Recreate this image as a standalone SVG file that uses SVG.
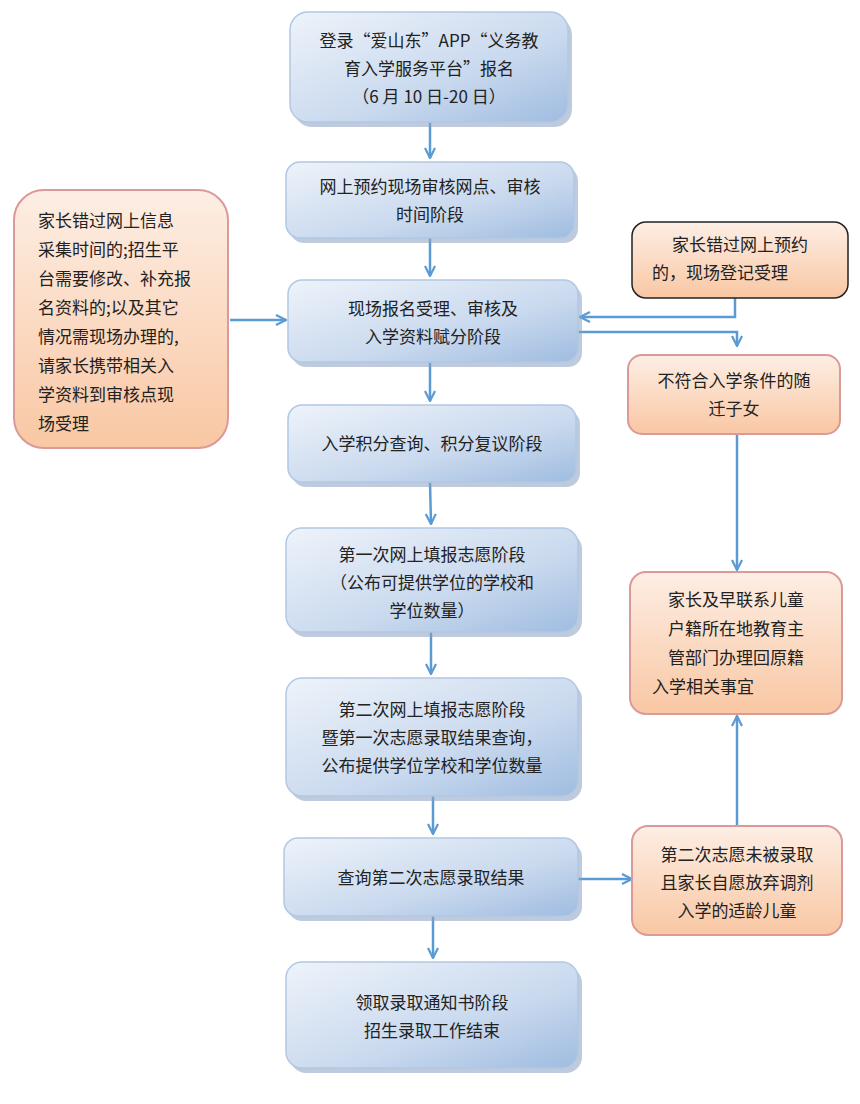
<svg xmlns="http://www.w3.org/2000/svg" width="860" height="1104" viewBox="0 0 860 1104">
<style>
text{font-family:"Noto Sans CJK SC","Liberation Serif",serif;font-size:17px;fill:#222;text-anchor:middle}
.l{text-anchor:start}
.b{fill:url(#gb);stroke:#b3c8e2;stroke-width:1.5}
.o{fill:url(#go);stroke:#d99a98;stroke-width:2}
.ok{fill:url(#go);stroke:#222;stroke-width:1.5}
.sh{fill:#8aa1bf;opacity:.55}
.c{fill:none;stroke:#5b9bd5;stroke-width:2.5;marker-end:url(#m)}
</style>
<defs>
<linearGradient id="gb" x1="0" y1="0" x2="1" y2="1"><stop offset="0" stop-color="#eef3fa"/><stop offset="0.6" stop-color="#c9d9ee"/><stop offset="1" stop-color="#9fbce0"/></linearGradient>
<linearGradient id="go" x1="0" y1="0" x2="0" y2="1"><stop offset="0" stop-color="#fdeee4"/><stop offset="1" stop-color="#f9c7a3"/></linearGradient>
<marker id="m" viewBox="0 0 12 12" refX="11" refY="6" markerWidth="12" markerHeight="12" markerUnits="userSpaceOnUse" orient="auto"><polyline points="1,1 11,6 1,11" fill="none" stroke="#5b9bd5" stroke-width="2.2"/></marker>
</defs>
<g id="connectors">
<line class="c" x1="430" y1="122" x2="430" y2="158"/>
<line class="c" x1="430" y1="238" x2="430" y2="276"/>
<line class="c" x1="430" y1="362" x2="430" y2="401"/>
<line class="c" x1="430" y1="482" x2="431" y2="524"/>
<line class="c" x1="431" y1="632" x2="431" y2="674"/>
<line class="c" x1="433" y1="796" x2="433" y2="834"/>
<line class="c" x1="433" y1="916" x2="433" y2="958"/>
<line class="c" x1="230" y1="320" x2="286" y2="320"/>
<polyline class="c" points="735,298 735,317 580,317"/>
<polyline class="c" points="578,332 737,332 737,346"/>
<line class="c" x1="737" y1="434" x2="737" y2="570"/>
<line class="c" x1="737" y1="826" x2="737" y2="716"/>
<line class="c" x1="578" y1="879" x2="632" y2="879"/>
</g>
<g id="n1"><rect class="sh" x="294" y="17" width="278" height="110" rx="18"/><rect class="b" x="290" y="12" width="278" height="110" rx="18"/><text x="429" y="47">登录“爱山东”APP“义务教</text><text x="429" y="75">育入学服务平台”报名</text><text x="429" y="103">（6 月 10 日-20 日）</text></g>
<g id="n2"><rect class="sh" x="290" y="167" width="288" height="76" rx="14"/><rect class="b" x="286" y="162" width="288" height="76" rx="14"/><text x="430" y="193">网上预约现场审核网点、审核</text><text x="430" y="221">时间阶段</text></g>
<g id="n3"><rect class="sh" x="292" y="285" width="290" height="82" rx="14"/><rect class="b" x="288" y="280" width="290" height="82" rx="14"/><text x="433" y="315">现场报名受理、审核及</text><text x="433" y="343">入学资料赋分阶段</text></g>
<g id="n4"><rect class="sh" x="292" y="410" width="288" height="77" rx="14"/><rect class="b" x="288" y="405" width="288" height="77" rx="14"/><text x="432" y="450">入学积分查询、积分复议阶段</text></g>
<g id="n5"><rect class="sh" x="290" y="533" width="292" height="104" rx="16"/><rect class="b" x="286" y="528" width="292" height="104" rx="16"/><text x="432" y="561">第一次网上填报志愿阶段</text><text x="432" y="589">（公布可提供学位的学校和</text><text x="432" y="617">学位数量）</text></g>
<g id="n6"><rect class="sh" x="290" y="683" width="292" height="118" rx="16"/><rect class="b" x="286" y="678" width="292" height="118" rx="16"/><text x="432" y="716">第二次网上填报志愿阶段</text><text x="432" y="744">暨第一次志愿录取结果查询，</text><text x="432" y="772">公布提供学位学校和学位数量</text></g>
<g id="n7"><rect class="sh" x="288" y="843" width="294" height="78" rx="14"/><rect class="b" x="284" y="838" width="294" height="78" rx="14"/><text x="431" y="884">查询第二次志愿录取结果</text></g>
<g id="n8"><rect class="sh" x="290" y="967" width="292" height="106" rx="16"/><rect class="b" x="286" y="962" width="292" height="106" rx="16"/><text x="432" y="1009">领取录取通知书阶段</text><text x="432" y="1037">招生录取工作结束</text></g>
<g id="left"><rect class="o" x="14" y="190" width="214" height="258" rx="30"/><text class="l" x="38" y="227">家长错过网上信息</text><text class="l" x="38" y="256">采集时间的;招生平</text><text class="l" x="38" y="285">台需要修改、补充报</text><text class="l" x="38" y="314">名资料的;以及其它</text><text class="l" x="38" y="343">情况需现场办理的,</text><text class="l" x="38" y="372">请家长携带相关入</text><text class="l" x="38" y="401">学资料到审核点现</text><text class="l" x="38" y="430">场受理</text></g>
<g id="r1"><rect class="ok" x="632" y="222" width="216" height="76" rx="14"/><text x="740" y="251">家长错过网上预约</text><text class="l" x="652" y="279">的，现场登记受理</text></g>
<g id="r2"><rect class="o" x="628" y="355" width="212" height="79" rx="14"/><text x="734" y="387">不符合入学条件的随</text><text x="734" y="415">迁子女</text></g>
<g id="r3"><rect class="o" x="630" y="572" width="212" height="142" rx="16"/><text x="736" y="606">家长及早联系儿童</text><text x="736" y="635">户籍所在地教育主</text><text x="736" y="664">管部门办理回原籍</text><text class="l" x="652" y="693">入学相关事宜</text></g>
<g id="r4"><rect class="o" x="632" y="826" width="210" height="109" rx="16"/><text x="737" y="861">第二次志愿未被录取</text><text x="737" y="889">且家长自愿放弃调剂</text><text x="737" y="917">入学的适龄儿童</text></g>
</svg>
